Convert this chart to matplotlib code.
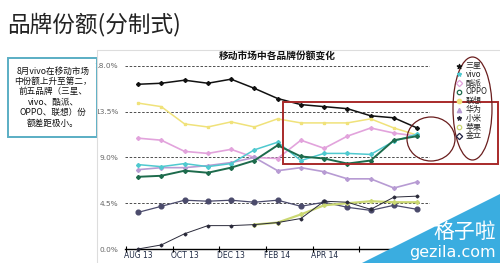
import numpy as np
from matplotlib import pyplot as plt
from matplotlib.patches import Rectangle, Ellipse, Polygon

plt.rcParams['font.family'] = ['Noto Sans CJK SC', 'DejaVu Sans']

months = ['AUG 13', 'SEP 13', 'OCT 13', 'NOV 13', 'DEC 13', 'JAN 14', 'FEB 14',
          'MAR 14', 'APR 14', 'MAY 14', 'JUN 14', 'JUL 14', 'AUG 14']
nan = np.nan

samsung = [16.2, 16.3, 16.6, 16.3, 16.7, 15.8, 14.8, 14.2, 14.0, 13.8, 13.1, 12.9, 11.9]
vivo = [8.3, 8.1, 8.4, 8.1, 8.4, 9.75, 10.5, 8.7, 9.4, 9.4, 9.3, 10.6, 11.3]
coolpad = [10.9, 10.7, 9.6, 9.4, 9.8, 9.0, 8.9, 10.7, 9.9, 11.1, 11.9, 11.4, 11.1]
oppo = [7.1, 7.2, 7.7, 7.5, 8.0, 8.7, 10.2, 9.1, 8.9, 8.4, 8.7, 10.7, 11.1]
lenovo = [14.35, 14.0, 12.3, 12.0, 12.5, 12.0, 12.8, 12.4, 12.4, 12.4, 12.8, 11.9, 11.2]
huawei = [7.8, 8.0, 8.0, 8.2, 8.5, 9.0, 7.7, 8.0, 7.6, 6.9, 6.9, 6.0, 6.6]
xiaomi = [0.0, 0.4, 1.5, 2.3, 2.3, 2.4, 2.6, 3.0, 4.7, 4.6, 3.9, 5.1, 5.2]
apple = [nan, nan, nan, nan, nan, 2.4, 2.6, 3.4, 4.3, 4.5, 4.7, 4.6, 4.6]
gionee = [3.6, 4.2, 4.8, 4.7, 4.8, 4.6, 4.8, 4.2, 4.6, 4.1, 3.8, 4.3, 3.9]

brands = ['三星', 'vivo', '酷派', 'OPPO', '联想', '华为', '小米', '苹果', '金立']
series = [samsung, vivo, coolpad, oppo, lenovo, huawei, xiaomi, apple, gionee]
colors = ['#111111', '#4fc9cf', '#e2a3dc', '#1d6b4c', '#f0e27a',
          '#b79bd3', '#2a2a3a', '#cbd873', '#4b4b6c']
markers = ['D', 'D', 'D', 'D', 's', 'D', 'D', 'D', 'o']
msizes = [2.0, 2.0, 2.0, 2.0, 2.0, 2.0, 1.5, 2.0, 3.4]
widths = [1.1, 1.1, 1.2, 1.4, 1.1, 1.2, 0.7, 1.6, 0.9]

yticks = [0, 4.5, 9, 13.5, 18]

fig = plt.figure(figsize=(5, 2.63), dpi=100)
ax = fig.add_axes([0.25, 0.0532, 0.61, 0.696])
x = np.arange(len(months))

for i in [0, 4, 2, 5, 1, 3, 8, 7, 6]:
    ax.plot(x, series[i], color=colors[i], lw=widths[i], marker=markers[i],
            markersize=msizes[i], clip_on=False, zorder=3)

ax.set_xlim(-0.56, 12.55)
ax.set_ylim(0, 18)
for v in yticks[1:]:
    ax.axhline(v, color='#333333', lw=0.6, ls=(0, (3, 2)), zorder=1)
ax.set_yticks(yticks)
ax.set_yticklabels(['%.1f%%' % v for v in yticks], fontsize=5.3, color='#666666',
                   family='DejaVu Sans')
ax.tick_params(axis='y', length=0, pad=5)
# labels past APR 14 sit under the watermark in the slide
ax.set_xticks(x[:9:2])
ax.set_xticklabels(months[:9:2], fontsize=5.5, color='#1f2a44', family='DejaVu Sans')
ax.set_xticks(np.arange(-0.5, 12, 2), minor=True)
ax.tick_params(axis='x', which='major', length=0, pad=1.5)
ax.tick_params(axis='x', which='minor', length=4, direction='inout', width=0.8)
for s in ['top', 'right', 'left']:
    ax.spines[s].set_visible(False)
ax.spines['bottom'].set_linewidth(1.0)
ax.patch.set_alpha(0)

# overlay in pixel coordinates for slide decorations
ov = fig.add_axes([0, 0, 1, 1])
ov.set_xlim(0, 500)
ov.set_ylim(263, 0)
ov.axis('off')
ov.patch.set_alpha(0)

ov.plot([97, 97, 500], [263, 50, 50], color='#dddddd', lw=0.8)
ov.text(7, 24, '品牌份额(分制式)', fontsize=16.3, va='center', ha='left', color='#222222')
ov.text(277, 55.5, '移动市场中各品牌份额变化', fontsize=7, fontweight='bold',
        ha='center', va='center', color='#111111')

ov.add_patch(Rectangle((8, 58), 89, 79, fill=False, ec='#5aaec4', lw=1.4))
ov.text(53, 97, '8月vivo在移动市场\n中份额上升至第二，\n前五品牌（三星、\nvivo、酷派、\nOPPO、联想）份\n额差距极小。',
        fontsize=6.2, ha='center', va='center', linespacing=1.2, color='#111111')

# legend
leg_markers = ['$\u2605$', '*', 'D', 'o', 'o', '^', '*', 'o', 'D']
for i, b in enumerate(brands):
    yy = 65.5 + i * 8.8
    ov.plot(459, yy, marker=leg_markers[i], markersize=3.2,
            mfc='none' if i in (2, 3, 7, 8) else colors[i],
            mec=colors[i] if i != 8 else '#222244', mew=0.9, ls='none')
    ov.text(466, yy, b, fontsize=5.8, va='center', ha='left', color='#222222')

red = '#a82a2a'
ov.add_patch(Rectangle((283, 102), 215, 62, fill=False, ec=red, lw=1.4))
ov.add_patch(Ellipse((431, 139), 48, 44, fill=False, ec='#6a1e1e', lw=0.9))
ov.add_patch(Ellipse((472.5, 108.5), 39, 103, fill=False, ec='#6a1e1e', lw=0.9))

# watermark
ov.add_patch(Polygon([(362, 263), (500, 194), (500, 263)], closed=True,
                     fc='#3aade0', ec='none'))
ov.text(496, 232, '格子啦', fontsize=15, color='white', ha='right', va='center')
ov.text(496, 252.5, 'gezila.com', fontsize=11.5, color='white', ha='right', va='center',
        family='DejaVu Sans')

fig.savefig('out.png', dpi=100)
